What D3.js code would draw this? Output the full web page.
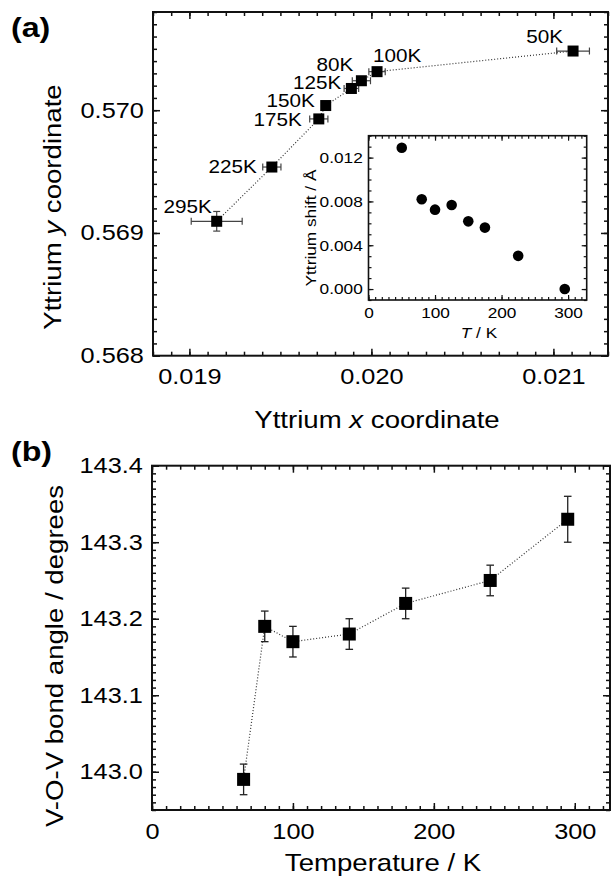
<!DOCTYPE html>
<html>
<head>
<meta charset="utf-8">
<script src="https://cdnjs.cloudflare.com/ajax/libs/d3/7.8.5/d3.min.js"></script>
<style>
body{margin:0;background:#fff;}
svg text{font-family:"Liberation Sans",Arial,Helvetica,sans-serif;fill:#000;}
</style>
</head>
<body>
<div id="canvas"></div>
<script>
// ---- data ----
// panel (a): yttrium x / y coordinates, labelled by temperature
var ytLabels = ['295K','225K','175K','150K','125K','80K','100K','50K'];
var ytX      = [0.01915, 0.019453, 0.019711, 0.019749, 0.01989, 0.019945, 0.020031, 0.021108];
var ytY      = [0.569095, 0.569537, 0.569929, 0.570038, 0.570177, 0.57024, 0.570314, 0.570482];
var ytXErr   = [0.00014, 0.00005, 0.00005, 0.00002, 0.00004, 0.00005, 0.000045, 0.00009];
var ytYErr   = [0.00008, 0.00002, 0.00002, 0.00002, 0.00002, 0.00002, 0.00002, 0.00002];

// inset: yttrium shift vs T
var insetT     = [50, 80, 100, 125, 150, 175, 225, 295];
var insetShift = [0.0129, 0.0082, 0.00725, 0.00767, 0.00618, 0.00561, 0.00303, 0.0];

// panel (b): V-O-V bond angle vs temperature
var tempB     = [65, 80, 100, 140, 180, 240, 295];
var angleB    = [142.99, 143.19, 143.17, 143.18, 143.22, 143.25, 143.33];
var angleBErr = [0.02, 0.02, 0.02, 0.02, 0.02, 0.02, 0.03];

// tick values
var aXMajor = [0.019, 0.020, 0.021];
var aYMajor = [0.568, 0.569, 0.570];
var bXMajor = [0, 100, 200, 300];
var bYMajor = [143.0, 143.1, 143.2, 143.3, 143.4];
var iXMajor = [0, 100, 200, 300];
var iYMajor = [0.000, 0.004, 0.008, 0.012];

var SX = 1.15; // the figure's font is wider than Arial

var W = 611, H = 876;
var svg = d3.select('#canvas').append('svg')
    .attr('width', W).attr('height', H);

// text helper, stretched horizontally in its own frame
function label(g, x, y, parts, size, opts){
    opts = opts || {};
    var t = g.append('text')
        .attr('transform', 'translate(' + x + ',' + y + ')' + (opts.rot ? ' rotate(' + opts.rot + ')' : '') + ' scale(' + SX + ',1)')
        .attr('text-anchor', opts.anchor || 'middle')
        .style('font-size', size + 'px')
        .style('font-weight', opts.bold ? 'bold' : 'normal');
    parts.forEach(function(p){
        if (typeof p === 'string') t.append('tspan').text(p);
        else t.append('tspan').style('font-style', 'italic').text(p.i);
    });
    return t;
}

// draws a framed box with inward ticks on all four sides
function frame(g, x, y, xMajor, xMinor, yMajor, yMinor, o){
    var r = x.range(), d = y.range();
    var x0 = r[0], x1 = r[1], yb = d[0], yt = d[1];
    function ax(axis, tx, ty, vals, size, fmt, pad){
        var gg = g.append('g').attr('transform', 'translate(' + tx + ',' + ty + ')')
            .call(axis.tickValues(vals).tickSize(-size).tickSizeOuter(0).tickPadding(pad || 0)
                .tickFormat(fmt || function(){ return ''; }));
        gg.select('.domain').remove();
        gg.selectAll('line').attr('stroke', '#111').attr('stroke-width', o.tw);
        gg.attr('font-size', null).attr('font-family', null);
        gg.selectAll('text').style('font-size', o.fs + 'px')
            .attr('transform', 'scale(' + SX + ',1)');
        return gg;
    }
    ax(d3.axisBottom(x), 0, yb, xMinor, o.minor);
    ax(d3.axisBottom(x), 0, yb, xMajor, o.major, o.xfmt, o.xpad);
    ax(d3.axisTop(x), 0, yt, xMinor, o.minor);
    ax(d3.axisTop(x), 0, yt, xMajor, o.major);
    ax(d3.axisLeft(y), x0, 0, yMinor, o.minor);
    ax(d3.axisLeft(y), x0, 0, yMajor, o.major, o.yfmt, o.ypad);
    ax(d3.axisRight(y), x1, 0, yMinor, o.minor);
    ax(d3.axisRight(y), x1, 0, yMajor, o.major);
    g.append('rect').attr('x', x0).attr('y', yt).attr('width', x1 - x0).attr('height', yb - yt)
        .attr('fill', 'none').attr('stroke', '#111').attr('stroke-width', o.fw);
}

function errX(g, cx, cy, x0, x1, cap){
    g.append('line').attr('x1', x0).attr('x2', x1).attr('y1', cy).attr('y2', cy);
    g.append('line').attr('x1', x0).attr('x2', x0).attr('y1', cy - cap).attr('y2', cy + cap);
    g.append('line').attr('x1', x1).attr('x2', x1).attr('y1', cy - cap).attr('y2', cy + cap);
}
function errY(g, cx, cy, y0, y1, cap){
    g.append('line').attr('x1', cx).attr('x2', cx).attr('y1', y0).attr('y2', y1);
    g.append('line').attr('x1', cx - cap).attr('x2', cx + cap).attr('y1', y0).attr('y2', y0);
    g.append('line').attr('x1', cx - cap).attr('x2', cx + cap).attr('y1', y1).attr('y2', y1);
}

// ================= panel (a) =================
var gA = svg.append('g');
var xA = d3.scaleLinear().domain([0.0188, 0.0213]).range([153, 608]);
var yA = d3.scaleLinear().domain([0.568, 0.5708]).range([355.7, 12]);

frame(gA, xA, yA,
    aXMajor, d3.range(188, 214).map(function(d){ return d / 10000; }),
    aYMajor, d3.range(5680, 5709).map(function(d){ return d / 10000; }),
    {minor: 4, major: 7, tw: 1.5, fw: 2, fs: 22, xpad: 13, ypad: 8,
     xfmt: d3.format('.3f'), yfmt: d3.format('.3f')});

var ptsA = ytLabels.map(function(l, i){
    return {label: l, x: ytX[i], y: ytY[i], ex: ytXErr[i], ey: ytYErr[i]};
});
var sortedA = ptsA.slice().sort(function(a, b){ return a.x - b.x; });
gA.append('path')
    .attr('d', d3.line().x(function(d){ return xA(d.x); }).y(function(d){ return yA(d.y); })(sortedA))
    .attr('fill', 'none').attr('stroke', '#333').attr('stroke-width', 1.2)
    .attr('stroke-dasharray', '1,2');

var ebA = gA.append('g').attr('stroke', '#444').attr('stroke-width', 1.2);
ptsA.forEach(function(p){
    var cx = xA(p.x), cy = yA(p.y);
    errX(ebA, cx, cy, xA(p.x - p.ex), xA(p.x + p.ex), 3.5);
    errY(ebA, cx, cy, yA(p.y + p.ey), yA(p.y - p.ey), 3.5);
});
gA.selectAll('rect.pt').data(ptsA).enter().append('rect').attr('class', 'pt')
    .attr('x', function(d){ return xA(d.x) - 5.5; })
    .attr('y', function(d){ return yA(d.y) - 5.5; })
    .attr('width', 11).attr('height', 11).attr('fill', '#000');

// label offsets (layout only)
var offA = {'295K': [-5, -8, 'end'], '225K': [-15, 6, 'end'], '175K': [-17, 7, 'end'],
    '150K': [-11, 1, 'end'], '125K': [-10, 1, 'end'], '80K': [-8, -10, 'end'],
    '100K': [-4, -10, 'start'], '50K': [-10, -8, 'end']};
ptsA.forEach(function(p){
    var o = offA[p.label];
    label(gA, xA(p.x) + o[0], yA(p.y) + o[1], [p.label], 18, {anchor: o[2]});
});

label(gA, 61, 207, ['Yttrium ', {i: 'y'}, ' coordinate'], 24, {rot: -90});
label(gA, 377, 428, ['Yttrium ', {i: 'x'}, ' coordinate'], 24);
label(gA, 11, 37, ['(a)'], 28, {anchor: 'start', bold: true});

// ---- inset ----
var gI = gA.append('g');
var xI = d3.scaleLinear().domain([0, 328]).range([368.5, 586.7]);
var yI = d3.scaleLinear().domain([-0.001, 0.014]).range([300, 135.7]);
gI.append('rect').attr('x', 368.5).attr('y', 135.7).attr('width', 586.7 - 368.5).attr('height', 300 - 135.7)
    .attr('fill', '#fff');
frame(gI, xI, yI,
    iXMajor, d3.range(0, 330, 10),
    iYMajor, d3.range(-1, 15).map(function(d){ return d / 1000; }),
    {minor: 3, major: 5, tw: 1.2, fw: 1.6, fs: 15, xpad: 7, ypad: 5,
     xfmt: d3.format('d'), yfmt: d3.format('.3f')});
gI.selectAll('circle').data(insetT).enter().append('circle')
    .attr('cx', function(d){ return xI(d); })
    .attr('cy', function(d, i){ return yI(insetShift[i]); })
    .attr('r', 5.3).attr('fill', '#000');
label(gI, 316, 228, ['Yttrium shift / Å'], 15, {rot: -90});
label(gI, 479, 338, [{i: 'T'}, ' / K'], 15);

// ================= panel (b) =================
var gB = svg.append('g');
var xB = d3.scaleLinear().domain([0, 325]).range([152, 610]);
var yB = d3.scaleLinear().domain([142.95, 143.4]).range([810, 465.7]);

frame(gB, xB, yB,
    bXMajor, d3.range(0, 330, 10),
    bYMajor, d3.range(14295, 14341).map(function(d){ return d / 100; }),
    {minor: 4, major: 7, tw: 1.5, fw: 2, fs: 22, xpad: 13, ypad: 8,
     xfmt: d3.format('d'), yfmt: d3.format('.1f')});

var ptsB = tempB.map(function(t, i){ return {t: t, a: angleB[i], e: angleBErr[i]}; });
gB.append('path')
    .attr('d', d3.line().x(function(d){ return xB(d.t); }).y(function(d){ return yB(d.a); })(ptsB))
    .attr('fill', 'none').attr('stroke', '#333').attr('stroke-width', 1.2)
    .attr('stroke-dasharray', '1,2');
var ebB = gB.append('g').attr('stroke', '#222').attr('stroke-width', 1.3);
ptsB.forEach(function(p){
    errY(ebB, xB(p.t), yB(p.a), yB(p.a + p.e), yB(p.a - p.e), 3.8);
});
gB.selectAll('rect.pt').data(ptsB).enter().append('rect').attr('class', 'pt')
    .attr('x', function(d){ return xB(d.t) - 6.5; })
    .attr('y', function(d){ return yB(d.a) - 6.5; })
    .attr('width', 13).attr('height', 13).attr('fill', '#000');

label(gB, 63, 656, ['V-O-V bond angle / degrees'], 24, {rot: -90});
label(gB, 383, 871, ['Temperature / K'], 24);
label(gB, 11, 461, ['(b)'], 28, {anchor: 'start', bold: true});
</script>
</body>
</html>
